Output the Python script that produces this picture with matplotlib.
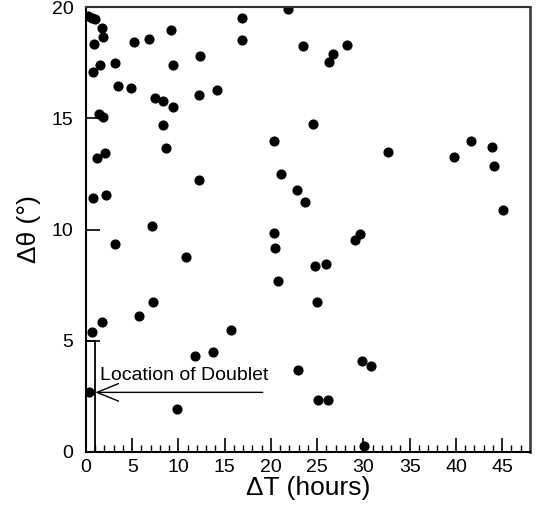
import numpy as np
import matplotlib
matplotlib.use('Agg')
import matplotlib.pyplot as plt
from matplotlib.patches import Rectangle

plt.rcParams['font.family'] = ['Liberation Sans', 'DejaVu Sans']

# delta T (hours) and delta theta (deg) of each pair
dT = [0.2, 0.6, 1.0, 1.69, 1.83, 0.90, 1.48, 0.76, 3.16, 3.48, 4.82, 5.15,
      6.83, 9.17, 9.46, 7.44, 8.34, 9.42, 8.31, 8.63, 12.19, 12.33, 14.16,
      16.90, 16.83, 12.27, 1.43, 1.83, 1.15, 2.02, 0.76, 2.19, 7.12, 3.13,
      21.79, 23.44, 26.75, 26.32, 28.19, 24.49, 20.28, 32.69, 39.81, 41.61,
      43.94, 44.12, 45.12, 21.11, 22.84, 23.70, 20.28, 29.63, 29.09, 20.39,
      24.78, 25.92, 20.74, 24.99, 29.81, 30.82, 22.87, 25.03, 26.11, 30.06,
      10.79, 7.26, 5.72, 1.73, 0.68, 15.72, 11.79, 13.78, 0.36, 9.89]
dTheta = [19.6, 19.5, 19.45, 19.04, 18.67, 18.32, 17.39, 17.08, 17.47, 16.45,
          16.35, 18.44, 18.58, 18.95, 17.38, 15.90, 15.76, 15.52, 14.68, 13.65,
          16.06, 17.80, 16.27, 19.49, 18.50, 12.22, 15.19, 15.04, 13.20, 13.45,
          11.40, 11.55, 10.16, 9.36, 19.90, 18.26, 17.87, 17.54, 18.28, 14.73,
          13.96, 13.47, 13.27, 13.99, 13.71, 12.87, 10.86, 12.48, 11.76, 11.22,
          9.83, 9.78, 9.53, 9.16, 8.35, 8.44, 7.69, 6.74, 4.09, 3.87, 3.70,
          2.32, 2.34, 0.28, 8.76, 6.76, 6.13, 5.86, 5.41, 5.50, 4.30, 4.51,
          2.70, 1.95]

fig = plt.figure(figsize=(5.36, 5.09), dpi=100)
ax = fig.add_axes([0.1604, 0.112, 0.8284, 0.8742])

ax.plot(dT, dTheta, 'ko', ms=6.3, lw=0)

# box marking the doublet
ax.add_patch(Rectangle((0, 0), 1, 5, fill=False, ec='k', lw=1.3))
ax.annotate('', xy=(1.0, 2.68), xytext=(19.1, 2.68),
            arrowprops=dict(arrowstyle='->,head_length=1.1,head_width=0.45',
                            color='k', lw=1.0, shrinkA=0, shrinkB=0,
                            mutation_scale=14))
ax.text(1.5, 3.46, 'Location of Doublet', fontsize=14, va='center', ha='left')

ax.set_xlim(0, 48)
ax.set_ylim(0, 20)
ax.set_xticks(np.arange(0, 46, 5))
ax.set_xticks(np.arange(0, 48, 1), minor=True)
ax.set_yticks(np.arange(0, 21, 5))
ax.tick_params(axis='both', direction='in', length=10, width=1.2,
               labelsize=14, top=False, right=False)
ax.tick_params(axis='x', which='minor', direction='in', length=5, width=1.0)
ax.tick_params(axis='x', pad=5)
ax.tick_params(axis='y', pad=9)

ax.set_xlabel('ΔT (hours)', fontsize=19, labelpad=0)
ax.set_ylabel('Δθ (°)', fontsize=19, labelpad=8)

ax.spines['left'].set_linewidth(1.5)
ax.spines['bottom'].set_linewidth(1.5)
ax.spines['top'].set_color('#333333')
ax.spines['top'].set_linewidth(1.5)
ax.spines['right'].set_color('#444444')
ax.spines['right'].set_linewidth(2.0)

plt.savefig('out.png', dpi=100)
